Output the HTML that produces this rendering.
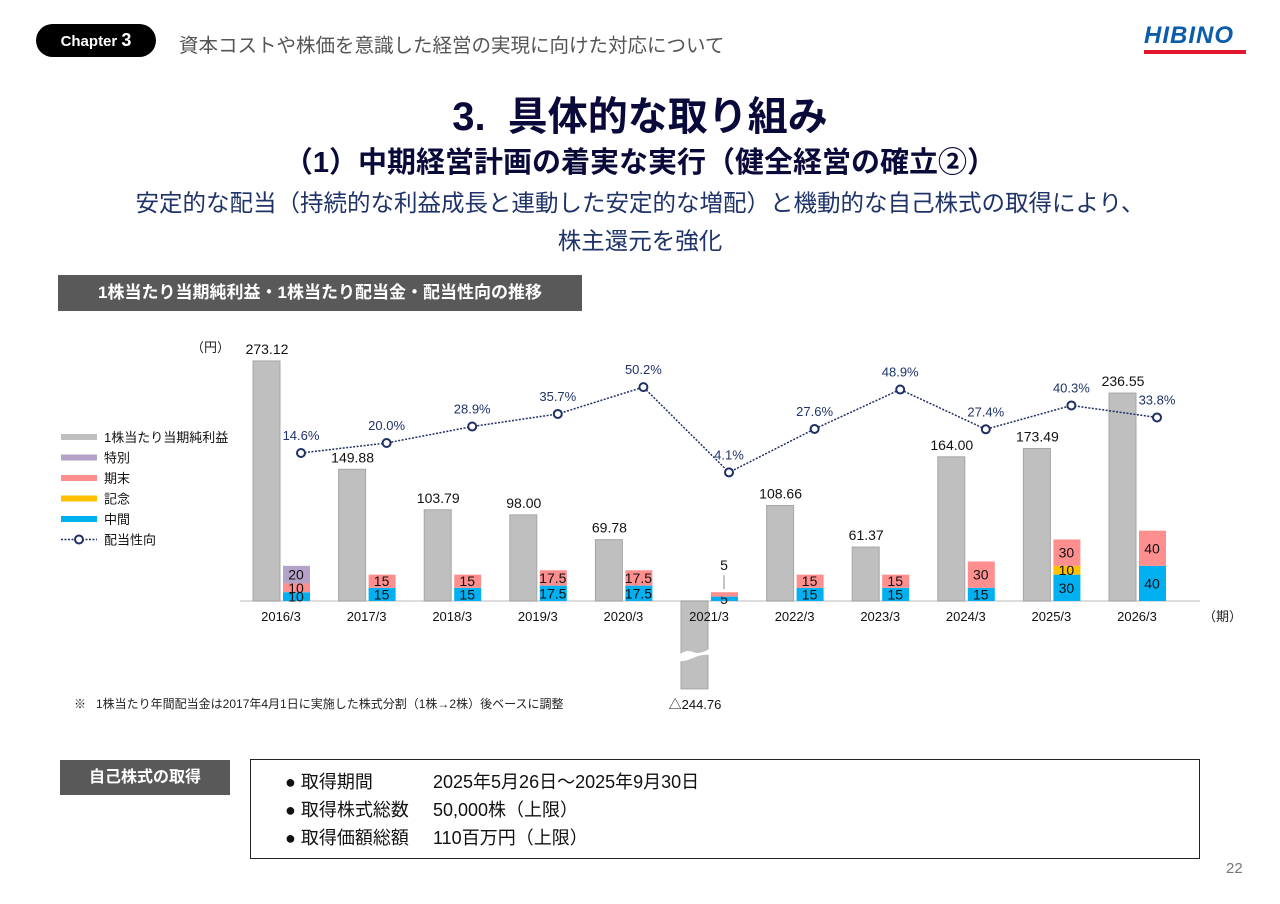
<!DOCTYPE html>
<html><head><meta charset="utf-8"><style>
body{margin:0;width:1280px;height:904px;background:#fff;position:relative;overflow:hidden;font-family:"Liberation Sans","Noto Sans CJK JP",sans-serif}
.abs{position:absolute}
</style></head><body>
<div class="abs" style="left:36px;top:24px;width:120px;height:33px;background:#000;border-radius:17px;color:#fff;font-weight:bold;font-size:15px;line-height:33px;text-align:center">Chapter <span style="font-size:18px">3</span></div>
<div class="abs" style="left:179px;top:29px;font-size:19.5px;color:#555;white-space:nowrap">資本コストや株価を意識した経営の実現に向けた対応について</div>
<div class="abs" style="left:1144px;top:24px;width:102px;">
<div style="color:#0b5cab;font-weight:bold;font-style:italic;font-size:24px;line-height:24px;letter-spacing:1px">HIBINO</div>
<div style="height:4px;background:#e5172f;margin-top:2px"></div></div>
<div class="abs" style="left:0;width:1280px;top:84px;text-align:center;font-size:40px;font-weight:bold;color:#0a0a3a;white-space:nowrap">3.&nbsp;&nbsp;具体的な取り組み</div>
<div class="abs" style="left:0;width:1280px;top:139px;text-align:center;font-size:29px;font-weight:bold;color:#0a0a3a;white-space:nowrap">（1）中期経営計画の着実な実行（健全経営の確立②）</div>
<div class="abs" style="left:0;width:1280px;top:184px;text-align:center;font-size:23.5px;line-height:38px;color:#1f3369;white-space:nowrap">安定的な配当（持続的な利益成長と連動した安定的な増配）と機動的な自己株式の取得により、<br>株主還元を強化</div>
<div class="abs" style="left:58px;top:275px;width:524px;height:36px;background:#595959;color:#fff;font-weight:bold;font-size:17px;line-height:36px;text-align:center;white-space:nowrap">1株当たり当期純利益・1株当たり配当金・配当性向の推移</div>
<svg class="abs" id="chart" style="left:0;top:0" width="1280" height="904"></svg>
<div class="abs" style="left:74px;top:695px;font-size:12px;color:#222;white-space:nowrap">※&nbsp;&nbsp;&nbsp;1株当たり年間配当金は2017年4月1日に実施した株式分割（1株→2株）後ベースに調整</div>
<div class="abs" style="left:60px;top:760px;width:170px;height:35px;background:#595959;color:#fff;font-weight:bold;font-size:16px;line-height:35px;text-align:center">自己株式の取得</div>
<div class="abs" style="left:250px;top:759px;width:948px;height:98px;border:1.5px solid #222;font-size:18px;color:#111;line-height:28px">
<div style="position:absolute;left:34px;top:8px;white-space:nowrap">● 取得期間<span style="position:absolute;left:148px">2025年5月26日～2025年9月30日</span></div>
<div style="position:absolute;left:34px;top:36px;white-space:nowrap">● 取得株式総数<span style="position:absolute;left:148px;white-space:nowrap">50,000株（上限）</span></div>
<div style="position:absolute;left:34px;top:64px;white-space:nowrap">● 取得価額総額<span style="position:absolute;left:148px;white-space:nowrap">110百万円（上限）</span></div>
</div>
<div class="abs" style="left:1226px;top:860px;font-size:15px;color:#777">22</div>
<script>
const categories=["2016/3","2017/3","2018/3","2019/3","2020/3","2021/3","2022/3","2023/3","2024/3","2025/3","2026/3"];
const eps=[273.12,149.88,103.79,98.00,69.78,-244.76,108.66,61.37,164.00,173.49,236.55];
const epsLabels=["273.12","149.88","103.79","98.00","69.78","△244.76","108.66","61.37","164.00","173.49","236.55"];
const divInterim=[10,15,15,17.5,17.5,5,15,15,15,30,40];
const divCommem=[0,0,0,0,0,0,0,0,0,10,0];
const divYearEnd=[10,15,15,17.5,17.5,5,15,15,30,30,40];
const divSpecial=[20,0,0,0,0,0,0,0,0,0,0];
const payout=[14.6,20.0,28.9,35.7,50.2,4.1,27.6,48.9,27.4,40.3,33.8];
const S="http://www.w3.org/2000/svg",svg=document.getElementById('chart');
function mk(t,a,txt){const e=document.createElementNS(S,t);for(const k in a)e.setAttribute(k,a[k]);if(txt!=null)e.textContent=txt;svg.appendChild(e);return e;}
const base=601;
function xC(i){return 281+i*85.6;}
function yV(v){return base-v*0.879;}
function yP(p){return 480-p*1.85;}
const negClip=-100;
let e=mk('line',{x1:240,x2:1200,y1:base,y2:base,stroke:'#d0d0d0','stroke-width':1.5});

e=mk('text',{x:191,y:352,'font-size':13,fill:'#222'},'（円）');

e=mk('text',{x:1203,y:621,'font-size':13,fill:'#222'},'（期）');

categories.forEach((c,i)=>{
 const x=xC(i);
 const v=Math.max(eps[i],negClip);
 const y0=Math.min(yV(v),base),h=Math.abs(yV(v)-base);
 let r=mk('rect',{x:x-28,y:y0,width:27,height:h,fill:'#bfbfbf',stroke:'#a6a6a6','stroke-width':1});
 
 if(eps[i]<0){
  const mid=yV(v)-(yV(v)-base)/2+10;
  let b=mk('path',{d:`M${x-30} ${mid} q7 -6 14 -3 t16 -3 v6 q-7 -1 -16 3 t-14 3 z`,fill:'#fff'});
  
  let t=mk('text',{x:x-14,y:yV(v)+20,'font-size':13,'text-anchor':'middle',fill:'#111'},epsLabels[i]);
  
 }else{
  let t=mk('text',{x:x-14,y:yV(v)-7,'font-size':14,'text-anchor':'middle',fill:'#111'},epsLabels[i]);
  
 }
 let acc=0;
 const segs=[[divInterim,'#00b0f0','interim'],[divCommem,'#ffc000','commemorative'],[divYearEnd,'#ff8f8f','year-end'],[divSpecial,'#b4a2c8','special']];
 segs.forEach(([arr,col,nm])=>{
  const val=arr[i];if(!val)return;
  const yt=yV(acc+val),yb=yV(acc);
  let s=mk('rect',{x:x+2,y:yt,width:27,height:yb-yt,fill:col});
  
  let ly=(yt+yb)/2+5;
  if(c==="2021/3"&&nm==='year-end'){ly=yt-22;mk('line',{x1:x+15,x2:x+15,y1:yt-17,y2:yt-3,stroke:'#888'});}
  let t=mk('text',{x:x+15,y:ly,'font-size':14,'text-anchor':'middle',fill:'#111'},String(val));
  
  acc+=val;
 });
 let t=mk('text',{x:x,y:621,'font-size':13,'text-anchor':'middle',fill:'#111'},c);
 
});
const pts=payout.map((p,i)=>[xC(i)+20,yP(p)]);
let ln=mk('polyline',{points:pts.map(p=>p.join(',')).join(' '),fill:'none',stroke:'#1f3064','stroke-width':1.5,'stroke-dasharray':'2,1.5'});

pts.forEach((p,i)=>{
 let c=mk('circle',{cx:p[0],cy:p[1],r:4,fill:'#fff',stroke:'#1f3064','stroke-width':2});
 
 let t=mk('text',{x:p[0],y:p[1]-13,'font-size':13,'text-anchor':'middle',fill:'#1f3369'},payout[i].toFixed(1)+'%');
 
});
const legend=[['1株当たり当期純利益','#bfbfbf'],['特別','#b4a2c8'],['期末','#ff8f8f'],['記念','#ffc000'],['中間','#00b0f0']];
legend.forEach((l,i)=>{
 const y=437+i*20.5;
 let r=mk('rect',{x:61,y:y-3,width:36,height:6,fill:l[1]});
 
 let t=mk('text',{x:104,y:y+5,'font-size':13,fill:'#111'},l[0]);
 
});
let ly=437+5*20.5;
mk('line',{x1:61,x2:97,y1:ly,y2:ly,stroke:'#1f3064','stroke-width':1.5,'stroke-dasharray':'2,1.5'});
let lc=mk('circle',{cx:79,cy:ly,r:4,fill:'#fff',stroke:'#1f3064','stroke-width':2});

let lt=mk('text',{x:104,y:ly+5,'font-size':13,fill:'#111'},'配当性向');

</script>
</body></html>
